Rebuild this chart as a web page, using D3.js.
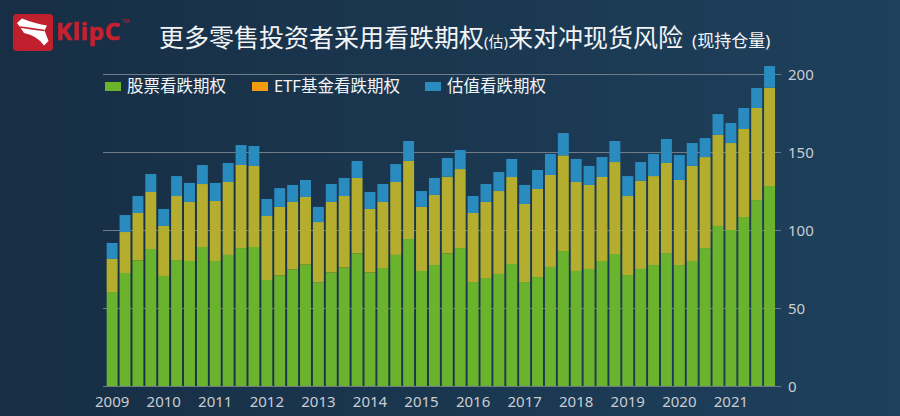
<!DOCTYPE html>
<html>
<head>
<meta charset="utf-8">
<script src="https://cdn.jsdelivr.net/npm/d3@7"></script>
<style>
  html, body { margin: 0; padding: 0; background: #172f45; }
  svg { display: block; }
  text { font-family: "Noto Sans", "Noto Sans CJK SC", sans-serif; }
</style>
</head>
<body>
<svg id="chart" width="900" height="416"></svg>
<script>
// ---------- DATA ----------
const categories = [
  "2009Q1","2009Q2","2009Q3","2009Q4","2010Q1","2010Q2","2010Q3","2010Q4",
  "2011Q1","2011Q2","2011Q3","2011Q4","2012Q1","2012Q2","2012Q3","2012Q4",
  "2013Q1","2013Q2","2013Q3","2013Q4","2014Q1","2014Q2","2014Q3","2014Q4",
  "2015Q1","2015Q2","2015Q3","2015Q4","2016Q1","2016Q2","2016Q3","2016Q4",
  "2017Q1","2017Q2","2017Q3","2017Q4","2018Q1","2018Q2","2018Q3","2018Q4",
  "2019Q1","2019Q2","2019Q3","2019Q4","2020Q1","2020Q2","2020Q3","2020Q4",
  "2021Q1","2021Q2","2021Q3","2021Q4"
];
// 股票看跌期权
const stockPuts = [
  60.3,72.5,80.6,87.9,70.6,80.8,80.2,89.2,80.2,84.1,88.5,89.2,
  68.0,71.0,74.9,77.9,66.5,72.9,76.1,85.1,72.9,75.7,84.1,94.3,
  73.8,77.6,85.1,88.5,66.7,69.3,71.9,78.3,66.7,69.9,76.4,86.6,
  73.8,75.1,80.2,84.7,71.2,75.1,77.6,85.3,77.6,80.2,88.5,102.7,
  100.1,108.4,119.3,128.3
];
// ETF基金看跌期权
const etfPuts = [
  21.2,26.3,30.4,36.6,32.1,41.1,37.9,40.4,38.5,46.8,53.3,52.0,
  41.1,43.9,43.2,43.4,38.7,45.2,45.8,48.4,40.7,42.4,46.8,50.1,
  41.1,45.0,49.2,50.7,44.3,48.8,53.2,55.8,50.1,56.5,59.0,61.4,
  57.1,53.9,53.9,59.0,50.7,56.6,57.1,57.8,54.6,61.0,58.4,58.4,
  55.8,56.5,59.1,63.1
];
// 估值看跌期权
const indexPuts = [
  10.3,10.9,10.9,11.5,10.9,12.8,12.2,12.2,11.6,12.2,12.8,12.8,
  10.9,12.1,10.9,10.9,9.7,11.5,11.6,10.9,10.9,11.5,11.5,12.8,
  10.2,10.9,12.0,12.2,10.9,11.5,12.2,11.6,12.2,12.2,13.5,14.3,
  14.8,12.2,12.8,13.5,12.8,12.0,14.2,15.4,16.0,14.7,12.2,13.4,
  12.9,13.5,12.8,13.9
];
const seriesNames = ["股票看跌期权", "ETF基金看跌期权", "估值看跌期权"];
const yTicks = [0, 50, 100, 150, 200];
const yearLabels = ["2009","2010","2011","2012","2013","2014","2015","2016","2017","2018","2019","2020","2021"];

// ---------- STYLE ----------
const barColors = ["#6ab42d", "#b5ad2e", "#2a8bbf"];
const legendColors = ["#6ab42d", "#f39c12", "#2a8bbf"];

const svg = d3.select("#chart");
const W = 900, H = 416;

// background gradient
const defs = svg.append("defs");
const grad = defs.append("linearGradient").attr("id", "bg")
  .attr("x1", "0%").attr("y1", "0%").attr("x2", "100%").attr("y2", "0%");
grad.append("stop").attr("offset", "0%").attr("stop-color", "#172e44");
grad.append("stop").attr("offset", "100%").attr("stop-color", "#1e405c");
svg.append("rect").attr("width", W).attr("height", H).attr("fill", "url(#bg)");

// ---------- LOGO ----------
const logo = svg.append("g");
logo.append("rect").attr("x", 13).attr("y", 14).attr("width", 40).attr("height", 37)
  .attr("rx", 4).attr("fill", "#c0202e");
logo.append("path")
  .attr("d", "M17,23 L22,18.5 Q33,23 47,25.5 L44.5,30.5 L48.5,41 L44,45.5 Q37,35.5 24,33 L20,27 Z")
  .attr("fill", "#ffffff");
logo.append("path")
  .attr("d", "M20,27 Q33,29 44.5,30.5")
  .attr("fill", "none").attr("stroke", "#c0202e").attr("stroke-width", 1.3);
logo.append("text").attr("x", 56).attr("y", 39.5)
  .attr("font-size", 24).attr("font-weight", "bold")
  .attr("font-family", "'DejaVu Sans', sans-serif")
  .attr("fill", "#c8202e").attr("stroke", "#c8202e").attr("stroke-width", 0.6)
  .attr("letter-spacing", 0.8).text("KlipC");
logo.append("text").attr("x", 122).attr("y", 23)
  .attr("font-size", 5).attr("fill", "#c8202e").text("TM");

// ---------- TITLE ----------
const title = svg.append("text").attr("x", 159).attr("y", 47)
  .attr("fill", "#f2f4f6").attr("font-size", 25)
  .attr("font-family", "'Noto Sans CJK SC', sans-serif");
title.append("tspan").text("更多零售投资者采用看跌期权");
title.append("tspan").attr("font-size", 15).text("(估)");
title.append("tspan").text("来对冲现货风险");
title.append("tspan").attr("font-size", 17).attr("dx", 9).text("(现持仓量)");

// ---------- SCALES ----------
const x = d3.scaleBand().domain(categories)
  .range([105.7, 776.0]).paddingInner(0.15).paddingOuter(0.075);
const y = d3.scaleLinear().domain([0, 200]).range([386, 74.3]);

const gridX0 = 103, gridX1 = 781;

// gridlines
svg.append("g").selectAll("line").data(yTicks).join("line")
  .attr("x1", gridX0).attr("x2", gridX1)
  .attr("y1", d => Math.round(y(d)) + 0.5).attr("y2", d => Math.round(y(d)) + 0.5)
  .attr("stroke", "#6f7b86").attr("stroke-width", 1);

// stacked bars
const rows = categories.map((c, i) => ({ cat: c, s0: stockPuts[i], s1: etfPuts[i], s2: indexPuts[i] }));
const stack = d3.stack().keys(["s0", "s1", "s2"]);
const stacked = stack(rows);

svg.append("g").selectAll("g").data(stacked).join("g")
  .attr("fill", (d, i) => barColors[i])
  .selectAll("rect").data(d => d).join("rect")
  .attr("x", d => x(d.data.cat))
  .attr("width", x.bandwidth())
  .attr("y", d => y(d[1]))
  .attr("height", d => y(d[0]) - y(d[1]));

// y axis labels (right)
const yAxis = d3.axisRight(y).tickValues(yTicks).tickSize(0).tickPadding(0);
const yg = svg.append("g").attr("transform", `translate(788,0)`).call(yAxis);
yg.select(".domain").remove();
yg.selectAll("text").attr("font-size", 15).attr("fill", "#c9cdd2")
  .attr("font-family", "'Noto Sans', sans-serif").attr("text-anchor", "start").attr("dy", "0.35em");

// x axis labels (years at Q1)
const xAxis = d3.axisBottom(x)
  .tickValues(yearLabels.map(yr => yr + "Q1"))
  .tickFormat(d => d.slice(0, 4)).tickSize(0).tickPadding(0);
const xg = svg.append("g").attr("transform", `translate(0,396)`).call(xAxis);
xg.select(".domain").remove();
xg.selectAll("text").attr("font-size", 15).attr("fill", "#c9cdd2")
  .attr("font-family", "'Noto Sans', sans-serif").attr("dy", "0.75em");

// ---------- LEGEND ----------
const legendX = [105, 252, 425];
const lg = svg.append("g").selectAll("g").data(seriesNames).join("g")
  .attr("transform", (d, i) => `translate(${legendX[i]},81)`);
lg.append("rect").attr("width", 16).attr("height", 9).attr("y", 1)
  .attr("fill", (d, i) => legendColors[i]);
lg.append("text").attr("x", 22).attr("y", 11)
  .attr("font-size", 16.5).attr("fill", "#f2f4f6")
  .attr("font-family", "'Noto Sans CJK SC', sans-serif")
  .text(d => d);
</script>
</body>
</html>
